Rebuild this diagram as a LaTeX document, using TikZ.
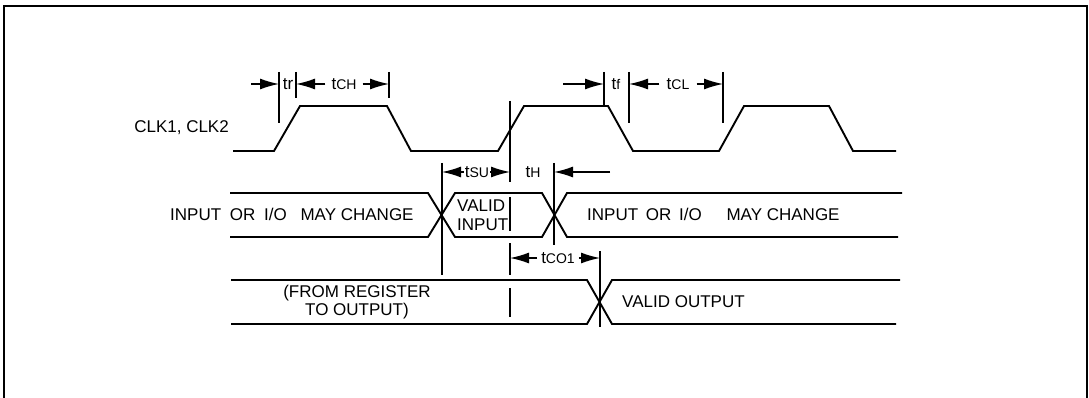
\documentclass[tikz,border=0pt]{standalone}
\usepackage{fontspec}
\setmainfont{Liberation Sans}
\usepackage{xcolor}
\usetikzlibrary{arrows.meta,positioning}
\newcommand{\tsub}[1]{t{\fontsize{14}{15}\selectfont #1}}
\begin{document}
\begin{tikzpicture}[x=1pt,y=-1pt,every node/.style={font=\fontsize{17}{18.5}\selectfont,align=center,inner sep=0pt},
  wave/.style={line width=1.9pt,line join=miter},
  mark line/.style={line width=1.7pt},
  arr/.style={-{Latex[length=19pt,width=11pt]},line width=1.4pt},
  tlab/.style={inner xsep=#1},tlab/.default=6pt]
  \useasboundingbox (0,0) rectangle (1089,398);
  \draw[line width=2.2pt] (4,398)--(4,6)--(1087,6)--(1087,398);
  % clock
  \draw[wave] (233,151)--(274,151)--(300,106)--(387,106)--(411,151)--(498,151)--(524,106)--(608,106)--(633,151)--(719,151)--(744,106)--(829,106)--(853,151)--(896,151);
  % input row
  \draw[wave] (230,193)--(428,193)--(455,237)--(542,237)--(567,193)--(902,193);
  \draw[wave] (230,237)--(428,237)--(455,193)--(542,193)--(567,237)--(898,237);
  % output row
  \draw[wave] (231,280)--(587,280)--(612,324)--(896,324);
  \draw[wave] (231,324)--(587,324)--(612,280)--(900,280);
  % marker lines
  \draw[mark line] (279,72)--(279,123);
  \draw[mark line] (296,72)--(296,98);
  \draw[mark line] (389,72)--(389,98);
  \draw[mark line] (604,72)--(604,105);
  \draw[mark line] (629,72)--(629,123);
  \draw[mark line] (723,72)--(723,123);
  \draw[mark line] (510,101)--(510,182);
  \draw[mark line] (510,197)--(510,231);
  \draw[mark line] (510,243)--(510,275);
  \draw[mark line] (510,288)--(510,317);
  \draw[mark line] (442,163)--(442,275);
  \draw[mark line] (554,163)--(554,245);
  \draw[mark line] (600,251)--(600,327);
  % ends of the dimension arrows
  \coordinate (trA) at (279,84);
  \coordinate (trB) at (296,84);
  \coordinate (chB) at (389,84);
  \coordinate (tfA) at (604,84);
  \coordinate (tfB) at (629,84);
  \coordinate (clB) at (723,84);
  \coordinate (suA) at (442,172);
  \coordinate (suB) at (510,172);
  \coordinate (thA) at (554,172);
  \coordinate (coA) at (510,258);
  \coordinate (coB) at (600,258);
  \coordinate (trS) at (251,84);
  \coordinate (tfS) at (563,84);
  \coordinate (thS) at (610,172);
  % labels
  \node (tr) at (288,84) {tr};
  \node[tlab] (tch) at (344,84) {\tsub{CH}};
  \node (tf) at (616,84) {\tsub{f}};
  \node[tlab=7pt] (tcl) at (678,84) {\tsub{CL}};
  \node[tlab=1pt] (tsu) at (477,172) {\tsub{SU}};
  \node (th) at (533,172) {\tsub{H}};
  \node[tlab=4pt] (tco) at (558,258) {\tsub{CO1}};
  \draw[arr] (trS)--(trA);
  \draw[arr] (tch)--(trB);
  \draw[arr] (tch)--(chB);
  \draw[arr] (tfS)--(tfA);
  \draw[arr] (tcl)--(tfB);
  \draw[arr] (tcl)--(clB);
  \draw[arr] (tsu)--(suA);
  \draw[arr] (tsu)--(suB);
  \draw[arr] (thS)--(thA);
  \draw[arr] (tco)--(coA);
  \draw[arr] (tco)--(coB);
  \node[anchor=east] (clk) at (229,128) {CLK1, CLK2};
  \node[anchor=west] (inA) at (170,214) {INPUT\hspace{4pt} OR\hspace{4pt} I/O\hspace{9pt} MAY CHANGE};
  \node[anchor=west,align=left] (valin) at (457,215) {VALID\\INPUT};
  \node[anchor=west] (inB) at (587,214) {INPUT\hspace{3pt} OR\hspace{3pt} I/O\hspace{20pt} MAY CHANGE};
  \node (reg) at (357,302) {(FROM REGISTER\\TO OUTPUT)};
  \node[anchor=west] (valout) at (622,302) {VALID OUTPUT};
\end{tikzpicture}
\end{document}
